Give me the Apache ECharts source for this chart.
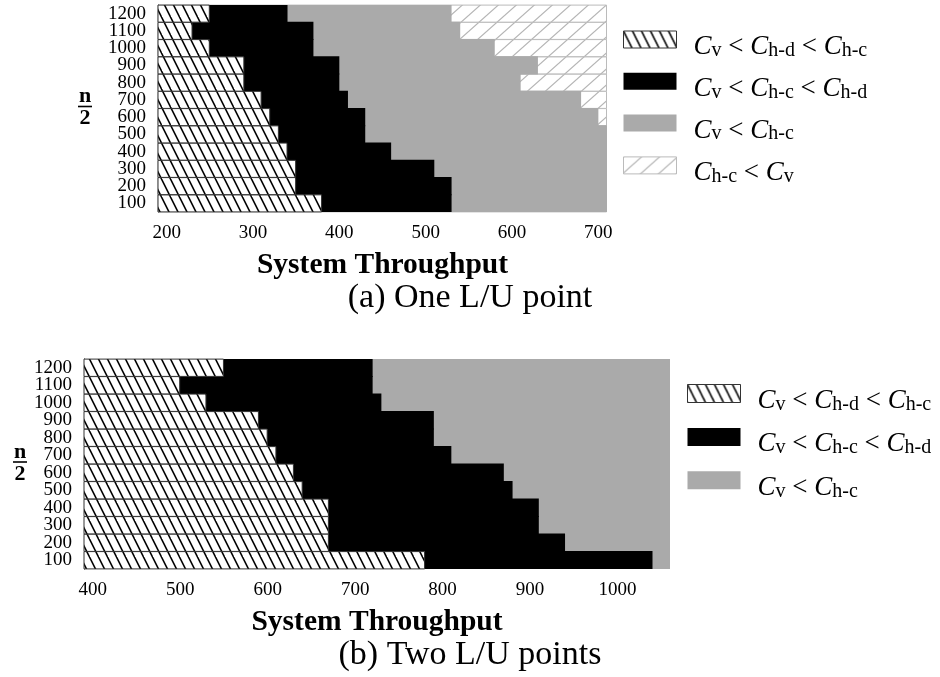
<!DOCTYPE html>
<html><head><meta charset="utf-8">
<script src="https://cdn.jsdelivr.net/npm/echarts@6/dist/echarts.min.js"></script>
<style>html,body{margin:0;padding:0;background:#fff}#c{width:940px;height:677px}</style>
</head><body><div id="c"></div>
<script>
// ---------- data ----------
const categories = ['100','200','300','400','500','600','700','800','900','1000','1100','1200'];
// Panel (a) One L/U point: right end of each region per row
const aHatchEnd = [380,350,350,340,330,320,310,290,290,250,230,250];
const aBlackEnd = [530,530,510,460,430,430,410,400,400,370,370,340];
const aGrayEnd  = [710,710,710,710,710,700,680,610,630,580,540,530];
const aLightEnd = [710,710,710,710,710,710,710,710,710,710,710,710];
const aTicks = [200,300,400,500,600,700];
// Panel (b) Two L/U points
const bHatchEnd = [780,670,670,670,640,630,610,600,590,530,500,550];
const bBlackEnd = [1040,940,910,910,880,870,810,790,790,730,720,720];
const bGrayEnd  = [1060,1060,1060,1060,1060,1060,1060,1060,1060,1060,1060,1060];
const bTicks = [400,500,600,700,800,900,1000];

const legendText = {
  a1: '{p| }{C|C}{s|v}{o| < }{C|C}{s|h-d}{o| < }{C|C}{s|h-c}',
  a2: '{p| }{C|C}{s|v}{o| < }{C|C}{s|h-c}{o| < }{C|C}{s|h-d}',
  a3: '{p| }{C|C}{s|v}{o| < }{C|C}{s|h-c}',
  a4: '{p| }{C|C}{s|h-c}{o| < }{C|C}{s|v}',
  b1: '{p| }{C|C}{s|v}{o| < }{C|C}{s|h-d}{o| < }{C|C}{s|h-c}',
  b2: '{p| }{C|C}{s|v}{o| < }{C|C}{s|h-c}{o| < }{C|C}{s|h-d}',
  b3: '{p| }{C|C}{s|v}{o| < }{C|C}{s|h-c}'
};

// ---------- patterns ----------
function hatch(w, h, color, lw, dir) {
  const c = document.createElement('canvas');
  c.width = w; c.height = h;
  const ctx = c.getContext('2d');
  ctx.fillStyle = '#fff'; ctx.fillRect(0, 0, w, h);
  ctx.strokeStyle = color; ctx.lineWidth = lw;
  for (let k = -1; k <= 1; k++) {
    ctx.beginPath();
    if (dir === 'back') { ctx.moveTo(k * w - w, -h); ctx.lineTo(k * w + 2 * w, 2 * h); }
    else { ctx.moveTo(k * w - w, 2 * h); ctx.lineTo(k * w + 2 * w, -h); }
    ctx.stroke();
  }
  return { image: c, repeat: 'repeat' };
}
const darkHatch = hatch(9, 18, '#000', 1.6, 'back');
const lightHatch = hatch(18, 16, '#b4b4b4', 1.2, 'fwd');
const GRAY = '#aaaaaa';
const FONT = 'Liberation Serif';

function bar(name, data, idx, color, bc, bw, width) {
  return {
    type: 'bar', name: name, data: data, xAxisIndex: idx, yAxisIndex: idx,
    barGap: '-100%', barWidth: width, clip: true, silent: true,
    itemStyle: { color: color, borderColor: bc, borderWidth: bw },
    emphasis: { disabled: true }
  };
}

const rich = {
  p: { fontFamily: FONT, fontSize: 12, width: 12, lineHeight: 42 },
  C: { fontFamily: FONT, fontStyle: 'italic', fontSize: 27, lineHeight: 32, verticalAlign: 'bottom', color: '#000' },
  o: { fontFamily: FONT, fontSize: 27, lineHeight: 32, verticalAlign: 'bottom', color: '#000' },
  s: { fontFamily: FONT, fontSize: 20, lineHeight: 19, verticalAlign: 'bottom', color: '#000' }
};
function legendItem(name, bc, bw) { return { name: name, itemStyle: { borderColor: bc, borderWidth: bw } }; }

function xAxis(idx, min, max, ticks) {
  return {
    type: 'value', gridIndex: idx, min: min, max: max,
    axisLine: { show: false }, axisTick: { show: false }, splitLine: { show: false },
    axisLabel: { customValues: ticks, fontFamily: FONT, fontSize: 19, color: '#000', margin: 12,
      formatter: function (v) { return String(v); } },
    name: 'System Throughput', nameLocation: 'middle', nameGap: 38,
    nameTextStyle: { fontFamily: FONT, fontWeight: 'bold', fontSize: 29.5, color: '#000' }
  };
}
function yAxis(idx, gap) {
  return {
    type: 'category', gridIndex: idx, data: categories,
    axisLine: { show: true, lineStyle: { color: '#000', width: 1 } },
    axisTick: { show: false }, splitLine: { show: false },
    axisLabel: { interval: 0, hideOverlap: false, fontFamily: FONT, fontSize: 19, color: '#000', margin: 12, lineHeight: 17 },
    name: '{n|n}\n{l|}\n{d|2}', nameLocation: 'middle', nameRotate: 0, nameGap: gap,
    nameTextStyle: {
      rich: {
        n: { fontFamily: FONT, fontWeight: 'bold', fontSize: 22, lineHeight: 16, align: 'center', color: '#000' },
        l: { width: 14, height: 1.6, backgroundColor: '#000', align: 'center', lineHeight: 4 },
        d: { fontFamily: FONT, fontWeight: 'bold', fontSize: 22, lineHeight: 20, align: 'center', color: '#000' }
      }
    }
  };
}

const captionStyle = { fontFamily: FONT, fontWeight: 'normal', fontSize: 34, color: '#000' };
const wA = 207 / 12 + 0.8, wB = 210 / 12 + 0.8;

const chart = echarts.init(document.getElementById('c'), null, { renderer: 'canvas' });
chart.setOption({
  animation: false,
  backgroundColor: '#fff',
  grid: [
    { left: 158, top: 5, width: 449, height: 207 },
    { left: 84, top: 359, width: 586, height: 210 }
  ],
  xAxis: [xAxis(0, 190, 710, aTicks), xAxis(1, 390, 1060, bTicks)],
  yAxis: [yAxis(0, 66), yAxis(1, 57)],
  title: [
    { text: '(a) One L/U point', left: 'center', top: 281, padding: 0, textStyle: captionStyle },
    { text: '(b) Two L/U points', left: 'center', top: 638, padding: 0, textStyle: captionStyle }
  ],
  legend: [
    { orient: 'vertical', left: 623, top: 30.5, padding: 0, itemWidth: 53, itemHeight: 17, itemGap: 12.3,
      icon: 'rect', selectedMode: false,
      data: [legendItem('a1', '#333', 1), legendItem('a2', '#000', 0), legendItem('a3', GRAY, 0), legendItem('a4', '#bbb', 1)],
      formatter: function (n) { return legendText[n]; }, textStyle: { rich: rich } },
    { orient: 'vertical', left: 687, top: 384, padding: 0, itemWidth: 53, itemHeight: 18, itemGap: 13.4,
      icon: 'rect', selectedMode: false,
      data: [legendItem('b1', '#333', 1), legendItem('b2', '#000', 0), legendItem('b3', GRAY, 0)],
      formatter: function (n) { return legendText[n]; }, textStyle: { rich: rich } }
  ],
  series: [
    bar('a4', aLightEnd, 0, lightHatch, '#bbb', 1, wA),
    bar('a3', aGrayEnd, 0, GRAY, GRAY, 0, wA),
    bar('a2', aBlackEnd, 0, '#000', '#000', 0, wA),
    bar('a1', aHatchEnd, 0, darkHatch, '#333', 1, wA),
    bar('b3', bGrayEnd, 1, GRAY, GRAY, 0, wB),
    bar('b2', bBlackEnd, 1, '#000', '#000', 0, wB),
    bar('b1', bHatchEnd, 1, darkHatch, '#333', 1, wB)
  ]
});
</script>
</body></html>
